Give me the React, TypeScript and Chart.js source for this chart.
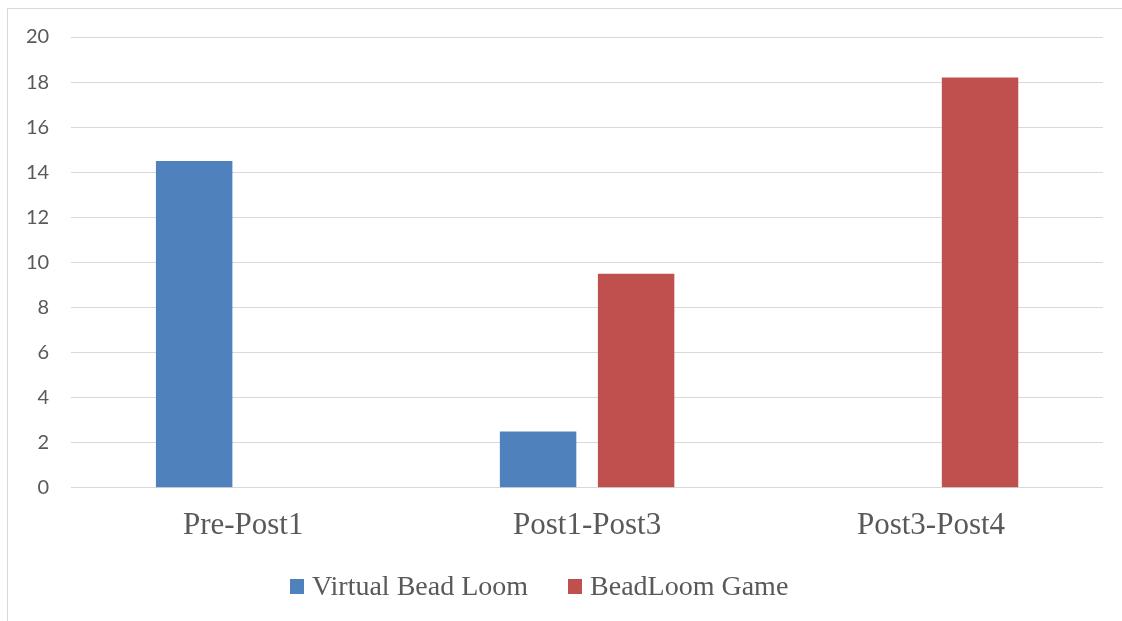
import React, { useEffect, useRef } from "react";
import { Chart, registerables } from "chart.js";

Chart.register(...registerables);

// Change measured between test sessions
const categories = ["Pre-Post1", "Post1-Post3", "Post3-Post4"];
const virtualBeadLoom = [14.5, 2.5, 0];
const beadLoomGame = [0, 9.5, 18.2];

const seriesNames = ["Virtual Bead Loom", "BeadLoom Game"];
const seriesColors = ["#4f81bd", "#c0504d"];

const yMin = 0;
const yMax = 20;
const yStep = 2;

const textColor = "#595959";
const gridColor = "#d9d9d9";

export default function App() {
  const canvasRef = useRef<HTMLCanvasElement | null>(null);

  useEffect(() => {
    const canvas = canvasRef.current;
    if (!canvas) return;
    const chart = new Chart(canvas, {
      type: "bar",
      data: {
        labels: categories,
        datasets: [
          {
            label: seriesNames[0],
            data: virtualBeadLoom,
            backgroundColor: seriesColors[0],
            borderWidth: 0,
          },
          {
            label: seriesNames[1],
            data: beadLoomGame,
            backgroundColor: seriesColors[1],
            borderWidth: 0,
          },
        ],
      },
      options: {
        responsive: false,
        animation: false,
        devicePixelRatio: 1,
        datasets: {
          bar: {
            categoryPercentage: 0.57,
            barPercentage: 0.78,
          },
        },
        layout: {
          padding: { left: 4, right: 19, top: 37, bottom: 58 },
        },
        plugins: {
          legend: { display: false },
          tooltip: { enabled: false },
        },
        scales: {
          x: {
            grid: { display: false, drawTicks: false },
            border: { display: false },
            ticks: {
              color: textColor,
              padding: 19,
              font: { family: "'Liberation Serif', 'Times New Roman', serif", size: 31 },
            },
          },
          y: {
            min: yMin,
            max: yMax,
            grid: { color: gridColor, lineWidth: 1, drawTicks: false },
            border: { display: false },
            ticks: {
              stepSize: yStep,
              color: textColor,
              padding: 22,
              font: { family: "Lato, 'Open Sans', sans-serif", size: 20 },
            },
          },
        },
      },
    });
    return () => chart.destroy();
  }, []);

  const legendItem = (name: string, color: string) => (
    <div key={name} style={{ display: "flex", alignItems: "center" }}>
      <span
        style={{
          display: "inline-block",
          width: 14,
          height: 15,
          background: color,
          marginRight: 8,
        }}
      />
      <span>{name}</span>
    </div>
  );

  return (
    <div
      style={{
        position: "fixed",
        left: 0,
        top: 0,
        width: 1122,
        height: 621,
        background: "#ffffff",
        overflow: "hidden",
      }}
    >
      <div
        style={{
          position: "absolute",
          left: 7,
          top: 8,
          width: 1200,
          height: 700,
          border: `1px solid ${gridColor}`,
          boxSizing: "border-box",
        }}
      />
      <canvas
        ref={canvasRef}
        width={1122}
        height={621}
        style={{ position: "absolute", left: 0, top: 0, width: 1122, height: 621 }}
      />
      <div
        style={{
          position: "absolute",
          left: 290,
          top: 572,
          display: "flex",
          gap: 40,
          fontFamily: "'Liberation Serif', 'Times New Roman', serif",
          fontSize: 28,
          lineHeight: "28px",
          color: textColor,
          whiteSpace: "nowrap",
        }}
      >
        {seriesNames.map((n, i) => legendItem(n, seriesColors[i]))}
      </div>
    </div>
  );
}
